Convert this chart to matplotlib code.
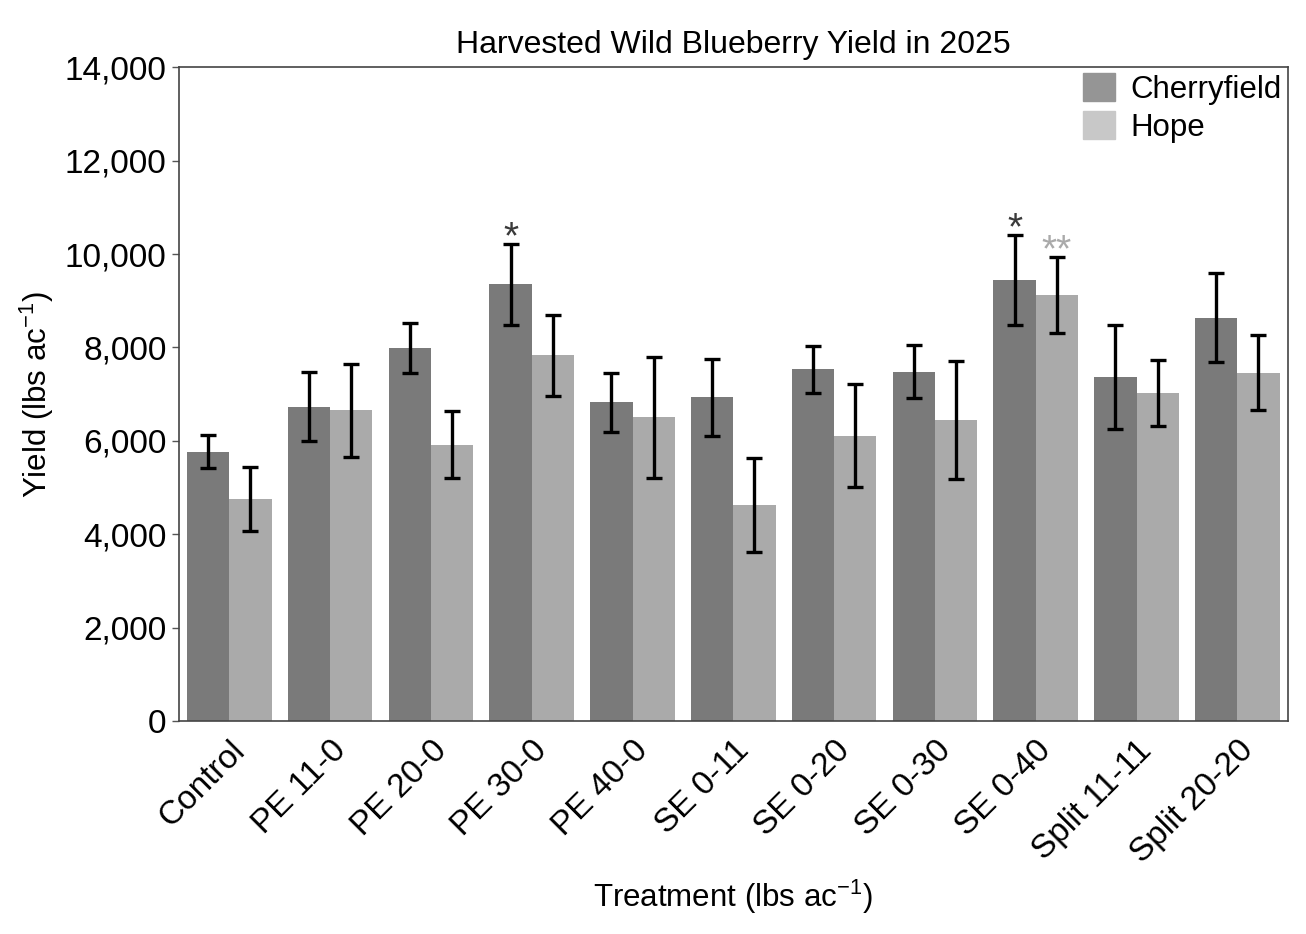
import numpy as np
import matplotlib
matplotlib.use("Agg")
import matplotlib.pyplot as plt
from matplotlib.patches import Patch

plt.rcParams["font.family"] = ["Liberation Sans", "DejaVu Sans"]
plt.rcParams["mathtext.fontset"] = "custom"
plt.rcParams["mathtext.rm"] = "Liberation Sans"
plt.rcParams["mathtext.it"] = "Liberation Sans"

# Data
treatments = ["Control", "PE 11-0", "PE 20-0", "PE 30-0", "PE 40-0", "SE 0-11",
              "SE 0-20", "SE 0-30", "SE 0-40", "Split 11-11", "Split 20-20"]
cherryfield = [5770, 6730, 7990, 9350, 6830, 6930, 7530, 7480, 9440, 7360, 8640]
cherryfield_err = [360, 740, 540, 870, 630, 820, 510, 570, 960, 1110, 960]
hope = [4750, 6650, 5920, 7830, 6500, 4630, 6110, 6440, 9120, 7030, 7460]
hope_err = [690, 1000, 710, 870, 1300, 1010, 1100, 1260, 810, 710, 810]

# significance marks: (treatment index, site, label)
marks = [(3, "C", "*"), (8, "C", "*"), (8, "H", "**")]

x = np.arange(len(treatments))
w = 0.42

fig = plt.figure(figsize=(13.06, 9.34), dpi=100)
ax = fig.add_axes([0.137, 0.228, 0.849, 0.700])

ax.bar(x - w / 2, cherryfield, w, color="#7a7a7a")
ax.bar(x + w / 2, hope, w, color="#aaaaaa")
ax.errorbar(x - w / 2, cherryfield, yerr=cherryfield_err, fmt="none",
            ecolor="black", elinewidth=2.4, capsize=5.5, capthick=2.4)
ax.errorbar(x + w / 2, hope, yerr=hope_err, fmt="none",
            ecolor="black", elinewidth=2.4, capsize=5.5, capthick=2.4)

for i, site, lab in marks:
    if site == "C":
        xx, top, col = x[i] - w / 2, cherryfield[i] + cherryfield_err[i], "#3a3a3a"
    else:
        xx, top, col = x[i] + w / 2, hope[i] + hope_err[i], "#aaaaaa"
    ax.text(xx, top - 260, lab, ha="center", va="bottom", fontsize=28, color=col)

ax.set_xlim(-0.5, len(treatments) - 0.5)
ax.set_ylim(0, 14000)
ax.set_yticks(np.arange(0, 14001, 2000))
ax.set_yticklabels([f"{v:,}" for v in range(0, 14001, 2000)], fontsize=24)
ax.set_xticks(x)
ax.set_xticklabels(treatments, rotation=45, ha="right", rotation_mode="anchor", fontsize=24)
ax.tick_params(axis="x", length=0, pad=10)
ax.tick_params(axis="y", length=5, width=1, color="#555555", pad=4)
for s in ax.spines.values():
    s.set_color("#444444")
    s.set_linewidth(1.2)

ax.set_title("Harvested Wild Blueberry Yield in 2025", fontsize=23, pad=10)
ax.set_ylabel("Yield (lbs ac$^{-1}$)", fontsize=22.5, labelpad=6)
ax.set_xlabel("Treatment (lbs ac$^{-1}$)", fontsize=22.5, labelpad=6)

handles = [Patch(color="#959595", label="Cherryfield"), Patch(color="#c8c8c8", label="Hope")]
ax.legend(handles=handles, loc="upper right", frameon=False, fontsize=22.5,
          handlelength=1.0, handleheight=1.0, handletextpad=0.5,
          borderaxespad=0.0, borderpad=0.2, labelspacing=0.2)

fig.savefig("out.png", dpi=100)
